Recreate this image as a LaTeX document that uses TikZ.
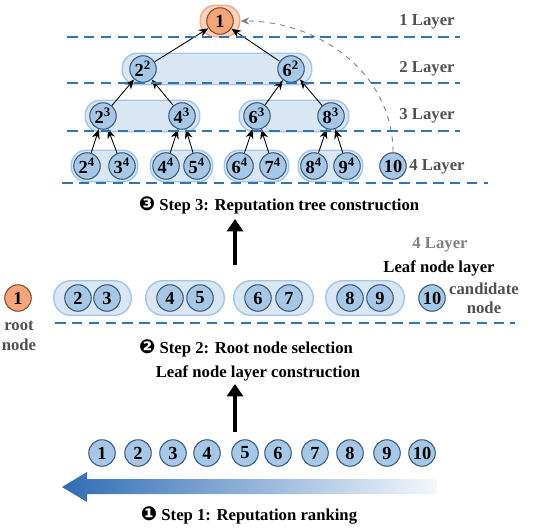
\documentclass[tikz,border=0pt]{standalone}
\usepackage{fontspec}
\setmainfont{Liberation Serif}
\newfontfamily\dingfont{DejaVu Sans}
\usetikzlibrary{arrows.meta,fit,backgrounds}
\definecolor{cLine}{HTML}{2E75B6}
\definecolor{cNode}{HTML}{A7C7E7}
\definecolor{cNodeEdge}{HTML}{3A5A7C}
\definecolor{cHalo}{HTML}{D9E6F4}
\definecolor{cHaloEdge}{HTML}{A4C5E8}
\definecolor{cRoot}{HTML}{F4A67A}
\definecolor{cRootEdge}{HTML}{8A4B2C}
\definecolor{cRootHalo}{HTML}{FAD4BD}
\definecolor{cRootHaloEdge}{HTML}{F3AC84}
\definecolor{cArrow}{HTML}{2F6CB5}
\definecolor{cGray}{HTML}{505050}

\begin{document}
\begin{tikzpicture}[x=0.02cm,y=-0.02cm,
    font=\fontsize{9.5}{11}\selectfont\bfseries,
    rep/.style={circle,draw=cNodeEdge,fill=cNode,line width=0.6pt,
                minimum size=0.53cm,inner sep=0pt,
                font=\fontsize{10.5}{12}\selectfont\bfseries},
    rootnode/.style={rep,draw=cRootEdge,fill=cRoot},
    halo/.style={rounded corners=0.3cm,draw=cHaloEdge,fill=cHalo,
                 line width=0.8pt,inner xsep=0.08cm,inner ysep=0.04cm},
    wide halo/.style={halo,rounded corners=0.34cm,inner xsep=0.21cm,inner ysep=0.07cm},
    layertext/.style={text=cGray},
    layerline/.style={cLine,line width=1.7pt,dash pattern=on 6pt off 3.6pt},
    tree arrow/.style={-{Stealth[length=5.5pt,width=4.5pt]},line width=0.5pt},
    steparrow/.style={-{Triangle[length=7pt,width=9pt]},line width=2.8pt}]
  \useasboundingbox (0,0) rectangle (550,530);

  % reputation tree
  \node[rootnode] (t1) at (220,21) {1};
  \node[rep] (t22) at (143,69) {2\textsuperscript{2}};
  \node[rep] (t62) at (291,69) {6\textsuperscript{2}};
  \node[rep] (t23) at (103,116) {2\textsuperscript{3}};
  \node[rep] (t43) at (182,116) {4\textsuperscript{3}};
  \node[rep] (t63) at (257,116) {6\textsuperscript{3}};
  \node[rep] (t83) at (331,116) {8\textsuperscript{3}};
  \node[rep] (t24) at (87,166) {2\textsuperscript{4}};
  \node[rep] (t34) at (122,166) {3\textsuperscript{4}};
  \node[rep] (t44) at (166,166) {4\textsuperscript{4}};
  \node[rep] (t54) at (197,166) {5\textsuperscript{4}};
  \node[rep] (t64) at (240,166) {6\textsuperscript{4}};
  \node[rep] (t74) at (273,166) {7\textsuperscript{4}};
  \node[rep] (t84) at (314,166) {8\textsuperscript{4}};
  \node[rep] (t94) at (347,166) {9\textsuperscript{4}};
  \node[rep] (t10) at (393,166) {10};
  \begin{scope}[on background layer]
    \node[halo,draw=cRootHaloEdge,fill=cRootHalo,inner xsep=0.12cm,fit=(t1)] (rootBox) {};
    \node[halo,inner xsep=0.14cm,fit=(t22)(t62)] (box2) {};
    \node[halo,fit=(t23)(t43)] (box3a) {};
    \node[halo,fit=(t63)(t83)] (box3b) {};
    \node[halo,inner xsep=0.04cm,fit=(t24)(t34)] (box4a) {};
    \node[halo,inner xsep=0.04cm,fit=(t44)(t54)] (box4b) {};
    \node[halo,inner xsep=0.04cm,fit=(t64)(t74)] (box4c) {};
    \node[halo,inner xsep=0.04cm,fit=(t84)(t94)] (box4d) {};
  \end{scope}
  \draw[tree arrow] (t22) -- (t1);
  \draw[tree arrow] (t62) -- (t1);
  \draw[tree arrow] (t23) -- (t22);
  \draw[tree arrow] (t43) -- (t22);
  \draw[tree arrow] (t63) -- (t62);
  \draw[tree arrow] (t83) -- (t62);
  \draw[tree arrow] (t24) -- (t23);
  \draw[tree arrow] (t34) -- (t23);
  \draw[tree arrow] (t44) -- (t43);
  \draw[tree arrow] (t54) -- (t43);
  \draw[tree arrow] (t64) -- (t63);
  \draw[tree arrow] (t74) -- (t63);
  \draw[tree arrow] (t84) -- (t83);
  \draw[tree arrow] (t94) -- (t83);
  \draw[gray,dashed,line width=0.5pt,-{Stealth[length=5pt,width=4pt]}]
    (t10.north) to[out=90,in=0] (rootBox.east);

  \draw[layerline] (67,37) -- (460,37);
  \draw[layerline] (67,83) -- (460,83);
  \draw[layerline] (67,131) -- (460,131);
  \draw[layerline] (62,183) -- (488,183);
  \node[layertext] (lay1) at (427,22) {1 Layer};
  \node[layertext] (lay2) at (427,69) {2 Layer};
  \node[layertext] (lay3) at (427,116) {3 Layer};
  \node[layertext] (lay4) at (437,167) {4 Layer};

  \node (step3) at (279,205) {{\dingfont\fontsize{11}{12}\selectfont ❸}\ Step 3: Reputation tree construction};
  \coordinate (up3a) at (235,265);
  \coordinate (up3b) at (235,219);
  \draw[steparrow] (up3a) -- (up3b);

  % leaf node layer
  \node[layertext,text=gray] (leafLay) at (440,245) {4 Layer};
  \node (leafText) at (439,268) {Leaf node layer};
  \node[rootnode] (m1) at (18,298) {1};
  \node[layertext,align=center] (rootText) at (19,336) {root\\node};
  \node[rep] (m2) at (78,298) {2};
  \node[rep] (m3) at (107,298) {3};
  \node[rep] (m4) at (170,298) {4};
  \node[rep] (m5) at (200,298) {5};
  \node[rep] (m6) at (258,298) {6};
  \node[rep] (m7) at (289,298) {7};
  \node[rep] (m8) at (350,298) {8};
  \node[rep] (m9) at (380,298) {9};
  \node[rep] (m10) at (432,298) {10};
  \node[layertext,align=center] (candText) at (484,298) {candidate\\node};
  \begin{scope}[on background layer]
    \node[wide halo,fit=(m2)(m3)] (pair1) {};
    \node[wide halo,fit=(m4)(m5)] (pair2) {};
    \node[wide halo,fit=(m6)(m7)] (pair3) {};
    \node[wide halo,fit=(m8)(m9)] (pair4) {};
  \end{scope}
  \draw[layerline] (55,323) -- (515,323);

  \node (step2) at (246,348) {{\dingfont\fontsize{11}{12}\selectfont ❷}\ Step 2: Root node selection};
  \node (leafCons) at (258,373) {Leaf node layer construction};
  \coordinate (up2a) at (235,432);
  \coordinate (up2b) at (235,384);
  \draw[steparrow] (up2a) -- (up2b);

  % ranking
  \node[rep] (b1) at (102,453) {1};
  \node[rep] (b2) at (138,453) {2};
  \node[rep] (b3) at (173,453) {3};
  \node[rep] (b4) at (207,453) {4};
  \node[rep] (b5) at (245,453) {5};
  \node[rep] (b6) at (278,453) {6};
  \node[rep] (b7) at (315,453) {7};
  \node[rep] (b8) at (350,453) {8};
  \node[rep] (b9) at (387,453) {9};
  \node[rep] (b10) at (422,453) {10};
  \shade[left color=cArrow,right color=cArrow!5]
    (62,487) -- (87,472) -- (87,479) -- (437,479) -- (437,494)
    -- (87,494) -- (87,502) -- cycle;
  \node (step1) at (249,515) {{\dingfont\fontsize{11}{12}\selectfont ❶}\ Step 1: Reputation ranking};
\end{tikzpicture}
\end{document}
